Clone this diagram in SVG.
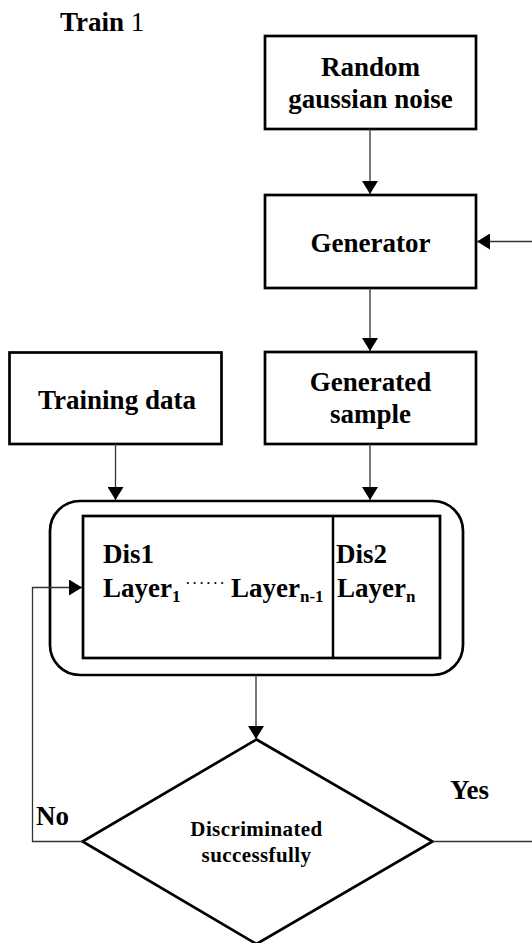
<svg xmlns="http://www.w3.org/2000/svg" width="532" height="943" viewBox="0 0 532 943">
<defs>
<marker id="arr" markerUnits="userSpaceOnUse" markerWidth="16" markerHeight="16" viewBox="0 0 16 16" refX="14" refY="8" orient="auto">
<path d="M1,0 L14,8 L1,16 Z" fill="#000"/>
</marker>
<style>
.box{fill:#fff;stroke:#000;stroke-width:2.7}
.ln{fill:none;stroke:#333;stroke-width:1.3}
.t{font-family:"Liberation Serif","Times New Roman",serif;font-weight:bold;font-size:27px;fill:#000}
.c{text-anchor:middle}
.sub{font-size:17px}
.sm{font-size:21px;letter-spacing:0.4px}
.dots{font-size:17px;font-weight:normal;letter-spacing:1.2px}
</style>
</defs>
<rect width="532" height="943" fill="#fff"/>
<g id="title"><text class="t" x="60" y="31">Train <tspan font-weight="normal">1</tspan></text></g>
<g id="noise"><rect class="box" x="265" y="36" width="211" height="93"/><text class="t c" x="370.5" y="76">Random</text><text class="t c" x="370.5" y="108">gaussian noise</text></g>
<g id="generator"><rect class="box" x="265" y="195" width="211" height="93"/><text class="t c" x="370.5" y="252">Generator</text></g>
<g id="training"><rect class="box" x="9.5" y="352.5" width="212" height="91.5"/><text class="t c" x="117" y="409">Training data</text></g>
<g id="generated"><rect class="box" x="265" y="352" width="211" height="92"/><text class="t c" x="370.5" y="391">Generated</text><text class="t c" x="370.5" y="423">sample</text></g>
<g id="discriminator">
<rect class="box" x="50" y="501" width="413" height="174" rx="30" ry="30"/>
<rect class="box" x="83" y="516" width="357" height="142"/>
<line x1="333" y1="516" x2="333" y2="658" stroke="#000" stroke-width="2.5"/>
<text class="t" x="103" y="563">Dis1</text>
<text class="t" x="103" y="597">Layer<tspan class="sub" dy="5">1</tspan></text>
<text class="t dots" x="185" y="589">······</text>
<text class="t" x="231" y="597">Layer<tspan class="sub" dy="5">n-1</tspan></text>
<text class="t" x="336" y="563">Dis2</text>
<text class="t" x="337" y="597">Layer<tspan class="sub" dy="5">n</tspan></text>
</g>
<g id="decision"><polygon class="box" points="256.5,739.5 432.5,841.5 256.5,944 82.5,841.5"/><text class="t c sm" x="256.5" y="836">Discriminated</text><text class="t c sm" x="256.5" y="862">successfully</text></g>
<g id="labels"><text class="t" x="450" y="799">Yes</text><text class="t" x="36" y="825">No</text></g>
<g id="connectors">
<line class="ln" x1="370" y1="129" x2="370" y2="194" marker-end="url(#arr)"/>
<line class="ln" x1="370" y1="288" x2="370" y2="351" marker-end="url(#arr)"/>
<line class="ln" x1="532" y1="241.5" x2="477" y2="241.5" marker-end="url(#arr)"/>
<line class="ln" x1="115.5" y1="444" x2="115.5" y2="500" marker-end="url(#arr)"/>
<line class="ln" x1="370" y1="444" x2="370" y2="500" marker-end="url(#arr)"/>
<line class="ln" x1="256" y1="675" x2="256" y2="739" marker-end="url(#arr)"/>
<polyline class="ln" points="82.5,841.5 32.5,841.5 32.5,587.5 82,587.5" marker-end="url(#arr)"/>
<line class="ln" x1="432.5" y1="841.5" x2="532" y2="841.5"/>
</g>
</svg>
